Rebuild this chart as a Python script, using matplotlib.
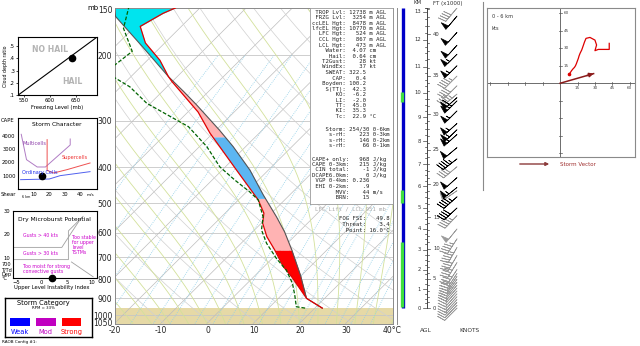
import numpy as np
import matplotlib
matplotlib.use("Agg")
import matplotlib.pyplot as plt
from matplotlib.lines import Line2D
from matplotlib.patches import Rectangle, FancyArrowPatch
from matplotlib.ticker import NullLocator

# ---------------- sounding ----------------
# environment temperature, mb / degC
env_p = [958, 902, 789, 741, 668, 615, 566, 532, 490, 407, 324, 284, 235, 228, 206, 185, 167, 154, 149]
env_t = [21.6, 16.1, 8.2, 4.2, -1.3, -5.9, -9.7, -11.6, -15.7, -26.9, -40.6, -47.8, -60.1, -61.9,
         -67.3, -74.2, -78.9, -76.8, -75.3]
# lifted parcel
par_p = [958, 902, 782, 668, 597, 544, 475, 407, 352, 318, 272, 250, 228, 190, 157, 149]
par_t = [21.6, 16.1, 9.8, 2.4, -3.1, -8.1, -15.7, -24.0, -32.7, -39.2, -49.6, -55.4, -61.9, -73.8, -86.4, -88.5]
# dewpoint
dew_p = [958, 950, 883, 822, 757, 704, 641, 590, 544, 490, 466, 433, 399, 352, 311, 305, 269, 243, 230,
         220, 212, 195, 169, 149]
dew_t = [17.9, 15.7, 12.8, 9.8, 5.6, 0.9, -4.5, -8.5, -11.0, -15.7, -19.3, -25.1, -31.2, -38.4, -46.7,
         -48.6, -60.8, -68.0, -73.1, -80.0, -76.0, -75.2, -82.1, -85.4]
p_sfc = 958

# CAPE / CIN shading layers (mb) and colours
cape_band_p = [958, 668, 485, 331, 228, 149]
cape_band_colors = ['#ff0000', '#ffb3b3', '#5cb6f2', '#ffb3b3', '#00e4ee']

# moisture bar: cloud layers (mb)
bar_top, bar_bot = 149, 955
cloud_layers = [(251, 267), (461, 499), (636, 952)]

# winds: height km AGL, u / v in kt
wind_km = [0.0, 0.15, 0.3, 0.45, 0.6, 0.75, 0.9, 1.05, 1.2, 1.35, 1.5, 1.65, 1.8, 2.0, 2.35, 2.7, 3.1,
           3.52, 4.0, 4.64, 5.0, 5.52, 5.8, 5.95, 6.4, 6.89, 7.23, 7.72, 8.29, 8.49, 8.75, 9.27, 9.67,
           9.8, 9.94, 10.27, 10.65, 11.04, 11.47, 11.8, 12.26, 12.84, 13.33]
wind_u = [8.0, 8.5, 9.2, 9.8, 10.5, 11.2, 12.3, 13.2, 14.0, 14.8, 15.7, 16.3, 17.2, 18.6, 19.8, 21.0,
          22.3, 25.7, 30.0, 31.4, 30.0, 32.9, 42.3, 42.3, 37.2, 30.6, 35.5, 38.3, 40.9, 39.6, 40.9,
          38.9, 46.0, 44.6, 34.5, 28.3, 31.8, 38.9, 38.9, 33.5, 33.5, 32.1, 25.7]
wind_v = [8.0, 8.8, 9.8, 10.8, 11.6, 12.5, 13.6, 15.0, 16.8, 19.0, 21.4, 23.5, 25.8, 28.6, 32.0, 35.5,
          38.6, 39.4, 37.1, 32.9, 28.0, 29.1, 29.1, 34.3, 33.5, 25.7, 27.7, 32.1, 36.8, 38.2, 36.8,
          38.9, 46.0, 40.1, 28.9, 28.3, 31.8, 38.9, 38.9, 37.2, 37.2, 38.3, 30.6]
wind_dark = [0] * 20 + [1, 1, 0, 1, 1, 0, 1, 1, 1, 1, 1, 1, 1, 1, 0, 0, 0, 1, 1, 1, 1, 1, 0]
storm_dir, storm_spd = 254, 30

# indices panel
stat_labels = ['TROP Lvl:', 'FRZG Lvl:', 'ccLEL Hgt:', 'lfcEL Hgt:', 'LFC Hgt:', 'CCL Hgt:', 'LCL Hgt:',
               'Water:', 'Hail:', 'T2Gust:', 'WindEx:', 'SWEAT:', 'CAP:', 'Boyden:', 'S(TT):', 'KO:',
               'LI:', 'TT:', 'KI:', 'Tc:']
stat_values = ['12738', '3254', '8478', '10770', '524', '867', '473', '4.07', '0.64', '28', '37',
               '322.5', '0.4', '100.2', '42.3', '-6.2', '-2.0', '45.0', '35.3', '22.9']
stat_units = ['m AGL'] * 7 + ['cm', 'cm', 'kt', 'kt'] + [''] * 8 + ['°C']
helic_labels = ['Storm:', 's-rH:', 's-rH:', 's-rH:']
helic_values = ['254/30', '223', '146', '66']
helic_units = ['0-6km', '0-3km', '0-2km', '0-1km']
cape_labels = ['CAPE+ only:', 'CAPE 0-3km:', 'CIN total:', 'DCAPE6.0km:', 'VGP 0-4km:', 'EHI 0-2km:',
               'MVV:', 'BRN:']
cape_values = ['968', '215', '-1', '0', '0.236', '.9', '44', '15']
cape_units = ['J/kg', 'J/kg', 'J/kg', 'J/kg', '', '', 'm/s', '']
fog_labels = ['FOG FSI:', 'Threat:', 'Point:']
fog_values = ['49.8', '3.4', '16.0°C']

# small diagrams
hail_frz, hail_ratio = 643, 0.40
hail_line_x, hail_line_y = [539, 690], [0.1, 0.573]
sc_shear, sc_cape = 15.4, 968
multi_x = [1.9, 5.3, 12.2, 17.5, 33.5, 33.5]
multi_y = [4100, 2200, 1650, 1650, 3300, 3750]
super_x = [18.6, 18.6, 22.8, 31.4, 46.3]
super_y = [3700, 1400, 1200, 1450, 1950]
ord_x = [1.5, 20.0, 27.0, 46.3]
ord_y = [700, 750, 1000, 1300]
mb_lines = [([-5.6, 4.0, 5.9, 7.6], [14.4, 14.4, 20.7, 26.2]),
            ([-5.6, 5.3, 5.3, 8.2], [9.2, 9.2, 21.4, 27.6]),
            ([5.9, 10.2], [8.2, 1.9])]
mb_index, mb_dep = 2.0, 1.6
category_names = ['Weak', 'Mod', 'Strong']
category_colors = ['#0000ff', '#c000c0', '#ff0000']

W, H = 640, 346
fig = plt.figure(figsize=(6.4, 3.46), dpi=100)


def px_axes(x0, y0, x1, y1):
    return fig.add_axes([x0 / W, 1 - y1 / H, (x1 - x0) / W, (y1 - y0) / H])


def ftext(x, y, s, **kw):
    kw.setdefault('size', 4)
    kw.setdefault('va', 'center')
    fig.text(x / W, 1 - y / H, s, **kw)


def fline(xs, ys, **kw):
    fig.add_artist(Line2D([x / W for x in xs], [1 - y / H for y in ys], **kw))


# ---------------- Skew-T ----------------
K, P0 = 35.0, 1050.0
P_BOT, P_TOP = 1054, 149


def skew(t, p):
    return np.asarray(t, float) + K * np.log(P0 / np.asarray(p, float))


ax = px_axes(115, 8, 392.5, 323.5)
ax.set_yscale('log')
ax.set_ylim(P_BOT, P_TOP)
ax.set_xlim(-20, 40)

pg = np.exp(np.linspace(np.log(P_BOT), np.log(P_TOP), 300))
ax.axhspan(p_sfc, P_BOT, color='#e6d9a6', zorder=0, lw=0)
for p in [200, 300, 400, 500, 600, 700, 800, 900, 1000]:
    ax.axhline(p, color='#c6c6c6', lw=0.6, zorder=1)
for t in range(-130, 50, 10):
    ax.plot(skew(t, pg), pg, color='#bdbdbd', lw=0.5, zorder=1)
for th in range(250, 480, 10):
    ax.plot(skew(th * (pg / 1000.0) ** 0.2857 - 273.15, pg), pg, color='#d0d0d0', lw=0.5, zorder=1)

# moist adiabats
Rd, cp, Lv = 287.04, 1005.7, 2.501e6
t_m = np.arange(-24, 48, 4) + 273.15
moist = np.zeros((len(pg), len(t_m)))
moist[0] = t_m
for i in range(1, len(pg)):
    tk = moist[i - 1]
    es = 6.112 * np.exp(17.67 * (tk - 273.15) / (tk - 29.65))
    rs = 0.622 * es / (pg[i - 1] - es)
    dtdp = (Rd * tk + Lv * rs) / (pg[i - 1] * (cp + Lv ** 2 * rs * 0.622 / (Rd * tk ** 2)))
    moist[i] = tk + dtdp * (pg[i] - pg[i - 1])
for j in range(len(t_m)):
    ax.plot(skew(moist[:, j] - 273.15, pg), pg, color='#d3e19b', lw=0.6, zorder=1)

# mixing ratio lines
pm = pg[pg >= 200]
for w in [0.1, 0.2, 0.4, 0.6, 1, 1.5, 2, 3, 4, 5, 6, 8, 10, 12, 14, 16, 20, 24, 28, 32, 36]:
    e = w * pm / (622.0 + w)
    le = np.log(e / 6.112)
    td = 243.5 * le / (17.67 - le)
    ax.plot(skew(td, pm), pm, color='#8fcfe8', lw=0.6, ls=(0, (1, 1.5)), zorder=1)

# CAPE / CIN areas
pp = np.exp(np.linspace(np.log(p_sfc), np.log(P_TOP), 600))
env_i = np.interp(-np.log(pp), -np.log(env_p), env_t)
par_i = np.interp(-np.log(pp), -np.log(par_p), par_t)
for k, c in enumerate(cape_band_colors):
    hi, lo = cape_band_p[k], cape_band_p[k + 1]
    m = (pp <= hi + 0.5) & (pp >= lo - 0.5)
    ax.fill_betweenx(pp[m], skew(env_i[m], pp[m]), skew(par_i[m], pp[m]), color=c, lw=0, zorder=2)

ax.plot(skew(par_t, par_p), par_p, color='#555555', lw=0.8, zorder=3)
ax.plot(skew(env_t, env_p), env_p, color='#e00000', lw=0.9, zorder=4)
ax.plot(skew(dew_t, dew_p), dew_p, color='#006400', lw=0.9, ls=(0, (3, 1.5)), zorder=4)

ax.yaxis.set_minor_locator(NullLocator())
p_ticks = [150, 200, 300, 400, 500, 600, 700, 800, 900, 1000, 1050]
ax.set_yticks(p_ticks)
ax.set_yticklabels([str(p) for p in p_ticks])
x_ticks = [-20, -10, 0, 10, 20, 30, 40]
ax.set_xticks(x_ticks)
ax.set_xticklabels([str(t) for t in x_ticks[:-1]] + ['40°C'])
ax.tick_params(length=0, labelsize=5.5, pad=2, colors='#222222')
for s in ax.spines.values():
    s.set_color('#8a8a8a')
    s.set_linewidth(0.7)
ftext(93, 8, 'mb', size=5, ha='center')

# indices box
bx = px_axes(310, 8, 393, 204)
bx.set_xticks([])
bx.set_yticks([])
for s in bx.spines.values():
    s.set_color('#9a9a9a')
    s.set_linewidth(0.6)
mono = dict(family='DejaVu Sans Mono', size=4.1, color='#222222', ha='left')
y = 12.0
for lab, val, unit in zip(stat_labels, stat_values, stat_units):
    ftext(312, y, f'{lab:>10}{val:>6} {unit}', **mono)
    y += 5.5
y += 7.0
for lab, val, unit in zip(helic_labels, helic_values, helic_units):
    ftext(312, y, f'{lab:>10}{val:>7} {unit}', **mono)
    y += 5.5
y += 8.0
for lab, val, unit in zip(cape_labels, cape_values, cape_units):
    ftext(312, y, f'{lab:>11}{val:>6} {unit}', **mono)
    y += 5.5
ftext(350, 209, 'LFC Lift / LCL 951 mb', ha='center', family='DejaVu Sans Mono', size=4.1,
      color='#aaaaaa')
for i, (lab, val) in enumerate(zip(fog_labels, fog_values)):
    ftext(390, 219 + 6 * i, f'{lab:>8}{val:>7}', family='DejaVu Sans Mono', size=4.1,
          color='#222222', ha='right')
fline([397, 397], [8, 323.5], color='#8a8a8a', lw=0.7)

# ---------------- height axis, moisture bar and wind barbs ----------------
ep = np.array(env_p, float)
et = np.array(env_t, float) + 273.15
z = np.concatenate([[0.0], np.cumsum(29.27 * 0.5 * (et[1:] + et[:-1]) * np.log(ep[:-1] / ep[1:]))])


def km_to_p(km):
    return np.exp(np.interp(np.asarray(km, float) * 1000.0, z, np.log(ep)))


kx = px_axes(397, 8, 482, 323.5)
kx.set_yscale('log')
kx.set_ylim(P_BOT, P_TOP)
kx.set_xlim(397, 482)
kx.axis('off')

kx.plot([402.5, 402.5], [bar_top, bar_bot], color='#0000c8', lw=2.4, solid_capstyle='butt')
for lo, hi in cloud_layers:
    kx.plot([402.0, 402.0], [lo, hi], color='#3ee03e', lw=2.4, solid_capstyle='butt')

ax_x = 426.5
kx.plot([ax_x, ax_x], [km_to_p(0), km_to_p(13.55)], color='#444444', lw=0.7)
for k in np.arange(0, 13.51, 0.25):
    major = abs(k - round(k)) < 1e-6
    pk = km_to_p(k)
    kx.plot([ax_x - (4 if major else 2), ax_x], [pk, pk], color='#444444', lw=0.5)
    if major:
        kx.text(421, pk, '%d' % k, ha='right', va='center', size=3.8, color='#333333')
for f in range(0, 45):
    pf = km_to_p(f * 0.3048)
    kx.plot([ax_x, ax_x + (3.5 if f % 5 == 0 else 2)], [pf, pf], color='#444444', lw=0.5)
    if f % 5 == 0:
        kx.text(433, pf, '%d' % f, ha='left', va='center', size=3.8, color='#333333')

wk = np.array(wind_km)
wu = np.array(wind_u)
wv = np.array(wind_v)
dark = np.array(wind_dark) == 1
for sel, col in [(~dark, '#9a9a9a'), (dark, '#000000')]:
    kx.barbs(np.full(sel.sum(), 457.0), km_to_p(wk[sel]), wu[sel], wv[sel], length=5,
             color=col, linewidth=0.5, sizes=dict(spacing=0.16, height=0.45))
ftext(418, 3, 'KM', ha='center', size=4, color='#333333')
ftext(448, 3, 'FT (x1000)', ha='center', size=4, color='#333333')
ftext(426, 330, 'AGL', ha='center', size=4.2, color='#333333')
ftext(469, 330, 'KNOTS', ha='center', size=4.2, color='#333333')

# ---------------- hodograph ----------------
fline([483, 483], [2, 190], color='#8a8a8a', lw=0.8)
hx = px_axes(487, 8, 635, 157)
hx.set_xlim(-63, 64.5)
hx.set_ylim(-63.4, 64.7)
hx.set_xticks([])
hx.set_yticks([])
for s in hx.spines.values():
    s.set_color('#8a8a8a')
    s.set_linewidth(0.8)
hx.axhline(0, color='#555555', lw=0.6)
hx.axvline(0, color='#555555', lw=0.6)
for t in [-60, -45, -30, -15, 15, 30, 45, 60]:
    hx.plot([t, t], [-1.2, 1.2], color='#555555', lw=0.5)
    hx.plot([-1.2, 1.2], [t, t], color='#555555', lw=0.5)
    if t > 0:
        hx.text(t, -4.5, str(t), ha='center', va='center', size=3, color='#444444')
        hx.text(3, t, str(t), ha='left', va='center', size=3, color='#444444')
low = wk <= 6.0
hx.plot(wu[low], wv[low], color='#dd0000', lw=0.9)
hx.plot(wu[0], wv[0], 'o', color='#dd0000', ms=1.6)
su = float(-storm_spd * np.sin(np.radians(storm_dir)))
sv = float(-storm_spd * np.cos(np.radians(storm_dir)))
hx.plot([0, su], [0, sv], color='#8b1a1a', lw=1.1, zorder=6)
hx.annotate('', xy=(su, sv), xytext=(su * 0.8, sv * 0.8), annotation_clip=False,
            arrowprops=dict(arrowstyle='-|>', color='#8b1a1a', lw=1.1, mutation_scale=6,
                            shrinkA=0, shrinkB=0), zorder=7)
hx.text(-59, 57, '0 - 6 km', size=3.6, color='#333333', va='center')
hx.text(-59, 47, 'kts', size=3.6, color='#333333', va='center')
fig.add_artist(FancyArrowPatch((517 / W, 1 - 164 / H), (552 / W, 1 - 164 / H),
               transform=fig.transFigure, arrowstyle='-|>', mutation_scale=5, color='#8b3a3a', lw=1.0))
ftext(560, 164, 'Storm Vector', size=4, color='#a03030', ha='left')

# ---------------- hail diagram ----------------
ha_ = px_axes(18.3, 37.3, 96.7, 95)
ha_.set_xlim(539, 690)
ha_.set_ylim(0.1, 0.573)
ha_.plot(hail_line_x, hail_line_y, color='black', lw=0.8)
ha_.plot(hail_frz, hail_ratio, 'o', color='black', ms=4.5)
ha_.text(600, 0.475, 'NO HAIL', ha='center', va='center', size=5.6, weight='bold', color='#b4b4b4')
ha_.text(644, 0.209, 'HAIL', ha='center', va='center', size=5.6, weight='bold', color='#b4b4b4')
ha_.set_xticks([550, 600, 650])
ha_.set_yticks([0.1, 0.2, 0.3, 0.4, 0.5])
ha_.set_yticklabels(['.1', '.2', '.3', '.4', '.5'])
ha_.tick_params(labelsize=3.8, length=1.5, pad=1, width=0.5)
ha_.set_xlabel('Freezing Level (mb)', size=3.8, labelpad=1)
ha_.set_ylabel('Cloud depth ratio', size=3.4, labelpad=1)
for s in ha_.spines.values():
    s.set_linewidth(0.8)

# ---------------- storm character ----------------
sc = px_axes(18.3, 118.3, 96.7, 189)
sc.set_xlim(0, 50.6)
sc.set_ylim(0, 5300)
sc.plot(multi_x, multi_y, color='#b07cc4', lw=0.7)
sc.plot(super_x, super_y, color='#ee5050', lw=0.7)
sc.plot(ord_x, ord_y, color='#5060ee', lw=0.7)
sc.plot(sc_shear, sc_cape, 'o', color='black', ms=4.5)
sc.text(25, 4850, 'Storm Character', ha='center', va='center', size=4.3)
sc.text(2.8, 3420, 'Multicells', ha='left', va='center', size=3.6, color='#8a3aa8')
sc.text(28.2, 2340, 'Supercells', ha='left', va='center', size=3.6, color='#ee3030')
sc.text(2.1, 1200, 'Ordinary Cells', ha='left', va='center', size=3.6, color='#2030ee')
sc.set_xticks([10, 20, 30, 40])
sc.set_yticks([1000, 2000, 3000, 4000])
sc.tick_params(labelsize=3.8, length=0, pad=2)
for s in sc.spines.values():
    s.set_linewidth(0.8)
ftext(1, 120, 'CAPE', size=3.8, ha='left')
ftext(1, 195, 'Shear', size=3.8, ha='left')
ftext(22, 196.5, '6 km', size=2.4, ha='left')
ftext(87, 195.5, 'm/s', size=3, ha='left')

# ---------------- dry microburst ----------------
mb = px_axes(13.3, 210.7, 96.7, 277.5)
mb.set_xlim(-5.6, 10.9)
mb.set_ylim(1.6, 29.4)
for xs_, ys_ in mb_lines:
    mb.plot(xs_, ys_, color='#a0a0a0', lw=0.6)
mb.plot(mb_index, mb_dep, 'o', color='black', ms=4.5, clip_on=False, zorder=5)
mb.text(2.5, 26.2, 'Dry Microburst Potential', ha='center', va='center', size=4.3)
mag = dict(size=3.4, color='#cc00cc', va='center')
mb.text(-3.7, 19.3, 'Gusts > 40 kts', ha='left', **mag)
mb.text(-3.7, 12.0, 'Gusts > 30 kts', ha='left', **mag)
mb.text(6.1, 15.6, 'Too stable\nfor upper\nlevel\nTSTMs', ha='left', linespacing=1.0, **mag)
mb.text(-3.7, 5.3, 'Too moist for strong\nconvective gusts', ha='left', linespacing=1.0, **mag)
mb.set_xticks([-5, 0, 5, 10])
mb.set_yticks([10, 20, 30])
mb.tick_params(labelsize=3.8, length=0, pad=2)
for s in mb.spines.values():
    s.set_linewidth(0.8)
ftext(1.5, 265, '700', size=3.6, ha='left')
ftext(1.5, 270, 'T/Td', size=3.6, ha='left')
ftext(1.5, 274.5, 'Dep', size=3.6, ha='left')
ftext(1.5, 279, '°C', size=3.6, ha='left')
ftext(52, 287.5, 'Upper Level Instability Index', size=3.8, ha='center')

# ---------------- storm category ----------------
ca = px_axes(5, 298.3, 91.7, 336.7)
ca.set_xlim(0, 1)
ca.set_ylim(0, 1)
ca.set_xticks([])
ca.set_yticks([])
for s in ca.spines.values():
    s.set_linewidth(1.0)
ca.text(0.44, 0.88, 'Storm Category', ha='center', va='center', size=4.8)
ca.text(0.44, 0.76, 'RPM = 33%', ha='center', va='center', size=2.8)
for i, (name, col) in enumerate(zip(category_names, category_colors)):
    x0 = 0.06 + 0.296 * i
    ca.add_patch(Rectangle((x0, 0.28), 0.23, 0.2, color=col, lw=0))
    ca.text(x0 + 0.115, 0.13, name, ha='center', va='center', size=4.8, color=col)
ftext(2, 341.5, 'RAOB Config #1:', size=3, ha='left')

fig.savefig('out.png', dpi=100)
